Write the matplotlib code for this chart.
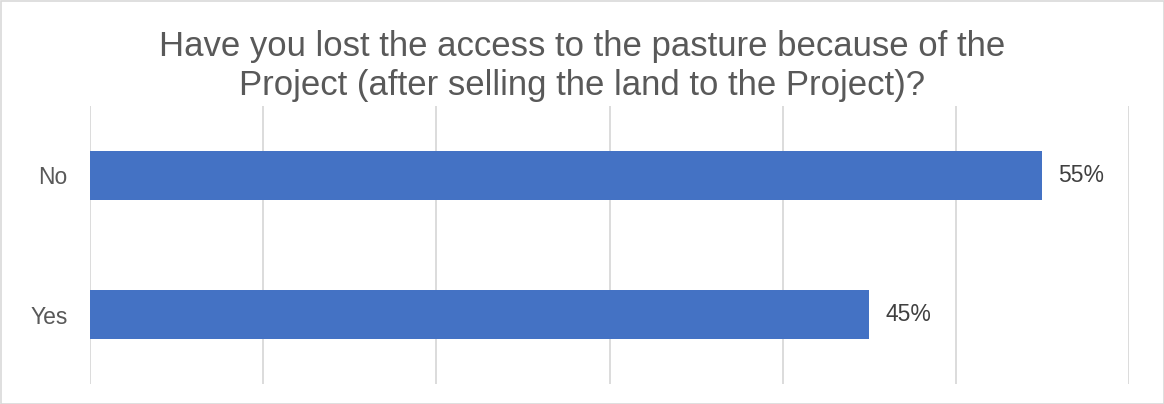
import matplotlib.pyplot as plt
from matplotlib.patches import Rectangle

# survey answers, share of respondents (%)
answers = ["No", "Yes"]
shares = [55, 45]
x_ticks = [0, 10, 20, 30, 40, 50, 60]

title = ("Have you lost the access to the pasture because of the\n"
         "Project (after selling the land to the Project)?")

plt.rcParams['font.family'] = ['Liberation Sans', 'DejaVu Sans']
text_col = '#595959'

fig = plt.figure(figsize=(11.64, 4.04), dpi=100)
ax = fig.add_axes([90 / 1164, 1 - 384 / 404, 1039 / 1164, 278 / 404])

ax.barh(answers, shares, height=0.35, color='#4472C4')
for y, v in enumerate(shares):
    ax.annotate(f"{v}%", (v, y), xytext=(16, 0), textcoords='offset pixels',
                va='center', ha='left', fontsize=16.5, color='#404040')

ax.set_xlim(0, 60)
ax.set_ylim(-0.5, 1.5)
ax.invert_yaxis()
ax.set_xticks(x_ticks)
ax.xaxis.grid(True, color='#D9D9D9', lw=1.3)
ax.set_axisbelow(True)
ax.tick_params(axis='x', length=0, labelbottom=False)
ax.tick_params(axis='y', length=0, pad=16, labelsize=16.5, labelcolor=text_col)
for s in ax.spines.values():
    s.set_visible(False)

fig.text(0.5, 1 - 30 / 404, title, ha='center', va='top', fontsize=25,
         color=text_col, linespacing=1.22)

# thin frame round the whole chart area
fig.patches.append(Rectangle((0.5 / 1164, 0.5 / 404), 1 - 1 / 1164, 1 - 1 / 404,
                             transform=fig.transFigure, fill=False,
                             ec='#D9D9D9', lw=1.2))

fig.savefig('out.png', dpi=100)
